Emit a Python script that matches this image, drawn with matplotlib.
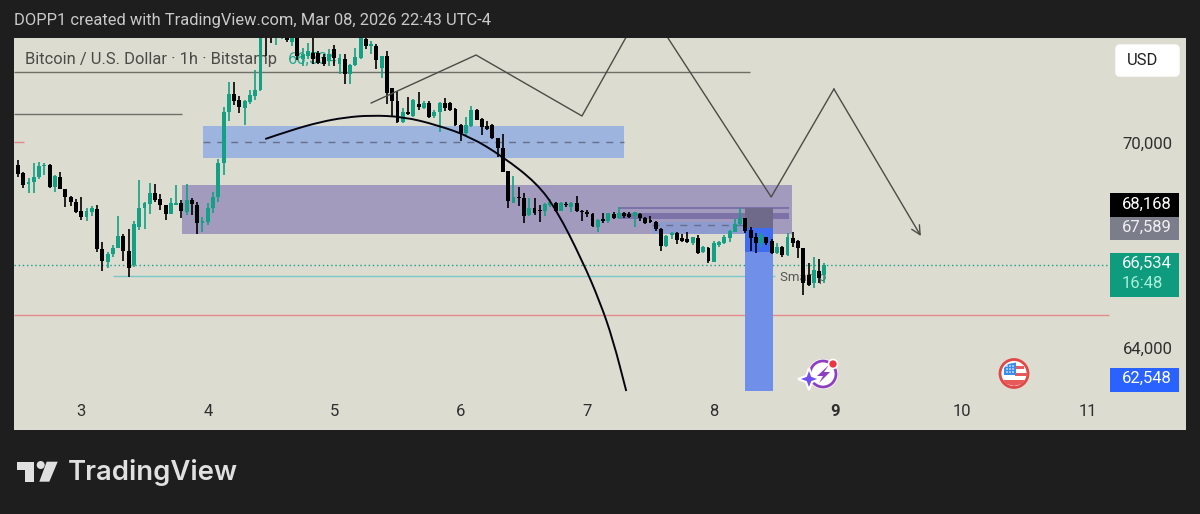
import matplotlib
matplotlib.use('Agg')
import matplotlib.pyplot as plt
from matplotlib.patches import Rectangle, Polygon, Circle, FancyBboxPatch, PathPatch
from matplotlib.path import Path

# candles, 1h BTC/USD
opens = [69385, 69141, 68830, 68898, 69044, 69356, 69395, 68732, 69034, 68683,
         68439, 68302, 68039, 67854, 68019, 68107, 66927, 66536, 66770, 66966,
         67317, 66868, 66458, 67580, 68117, 68244, 68556, 68380, 68205, 67951,
         68205, 68283, 68019, 68361, 68224, 67698, 67727, 68117, 68458, 69434,
         70947, 71464, 71288, 71044, 71239, 71405, 71580, 73300, 73300, 73170,
         73150, 73200, 73000, 73161, 72478, 72576, 72673, 72673, 72540, 72429,
         72770, 72332, 72478, 72039, 72302, 72527, 73083, 72868, 72868, 72234,
         72576, 71629, 71258, 70634, 70927, 70820, 71171, 71064, 71210, 70820,
         70927, 71210, 71190, 71034, 70556, 70332, 70527, 71005, 70741, 70527,
         70556, 70166, 69873, 69200, 68283, 68458, 68410, 67922, 68117, 68068,
         68039, 68215, 68263, 68049, 68244, 68166, 68283, 68039, 68019, 67941,
         67580, 67805, 67746, 67941, 67824, 67971, 67941, 67902, 67951, 67824,
         67776, 67727, 67502, 67015, 67337, 67386, 67239, 67220, 67112, 67239,
         66829, 66966, 66556, 67044, 67093, 67239, 67434, 67649, 67825, 67483,
         67288, 67093, 67268, 67171, 66800, 66995, 66751, 67259, 67161, 66946,
         66166, 65922, 66293, 66166]
highs = [69532, 69190, 68995, 69454, 69483, 69454, 69415, 69093, 69190, 68693,
         68478, 68380, 68458, 68117, 68185, 68215, 67122, 66849, 67044, 67893,
         67366, 67502, 67756, 68946, 68312, 68849, 68829, 68536, 68215, 68429,
         68800, 68361, 68819, 68410, 68312, 67854, 68263, 68605, 69551, 71093,
         71825, 71825, 71415, 71288, 71581, 72166, 73700, 73500, 73400, 73400,
         73300, 73300, 73300, 73250, 72820, 72966, 73161, 72722, 72624, 72770,
         72888, 72624, 72624, 72332, 72820, 73200, 73112, 73015, 72917, 72576,
         72722, 71649, 71551, 71044, 71386, 71308, 71532, 71269, 71259, 70995,
         71239, 71337, 71239, 71054, 70586, 70781, 71112, 71015, 70771, 70683,
         70576, 70166, 70293, 69220, 69063, 68751, 68576, 68410, 68410, 68215,
         68263, 68381, 68293, 68312, 68312, 68312, 68478, 68068, 68068, 67971,
         67805, 67971, 67990, 68019, 68166, 68019, 68019, 68019, 67971, 67854,
         67893, 67756, 67532, 67346, 67415, 67415, 67366, 67425, 67288, 67337,
         67015, 66995, 67171, 67171, 67337, 67483, 67795, 68117, 67844, 67561,
         67386, 67386, 67288, 67210, 67093, 67015, 67405, 67434, 67190, 66946,
         66507, 66683, 66625, 66507]
lows = [69044, 68703, 68556, 68556, 68966, 69093, 68712, 68605, 68673, 68166,
        68185, 67990, 67776, 67746, 67893, 66849, 66292, 66380, 66702, 66946,
        66575, 66097, 66410, 67483, 67502, 67941, 68293, 68068, 67776, 67951,
        68205, 67824, 67922, 67922, 67366, 67424, 67629, 67990, 68312, 69093,
        70683, 71142, 70898, 70556, 71171, 71288, 71560, 72576, 72966, 72888,
        73080, 73000, 72870, 72450, 72283, 72478, 72332, 72332, 72283, 72283,
        72283, 72039, 71746, 71746, 72283, 72478, 72770, 72624, 72185, 71941,
        71161, 70819, 70624, 70624, 70849, 70800, 70995, 71034, 70751, 70751,
        70361, 70966, 70956, 70527, 70098, 70234, 70488, 70693, 70263, 70410,
        70146, 69629, 69171, 68137, 68263, 68185, 67698, 67893, 67922, 67727,
        67893, 68166, 68019, 68039, 68146, 68019, 68019, 67756, 67873, 67580,
        67415, 67678, 67698, 67805, 67805, 67844, 67824, 67580, 67746, 67658,
        67698, 67463, 66878, 66995, 67220, 67063, 67122, 67112, 67044, 66781,
        66800, 66527, 66537, 66995, 67073, 67122, 67415, 67630, 67386, 66868,
        66800, 66995, 67044, 66771, 66771, 66703, 66732, 66976, 66654, 65581,
        65844, 65795, 65922, 65942]
closes = [69122, 68800, 68898, 69044, 69366, 69385, 68732, 69063, 68683, 68439,
          68302, 68019, 67873, 68049, 68117, 66917, 66585, 66780, 66946, 67317,
          66868, 66361, 67658, 68117, 68263, 68575, 68361, 68205, 67941, 68283,
          68263, 68039, 68361, 68234, 67678, 67746, 68137, 68439, 69454, 70947,
          71464, 71269, 71073, 71269, 71434, 71581, 73500, 73200, 73200, 73250,
          73200, 73040, 73140, 72580, 72624, 72722, 72478, 72380, 72350, 72624,
          72527, 72527, 72039, 72302, 72556, 73112, 72868, 72917, 72458, 72576,
          71502, 71258, 70644, 70927, 70878, 71288, 71073, 71210, 70781, 70947,
          71210, 71044, 70995, 70556, 70312, 70556, 70995, 70703, 70507, 70449,
          70166, 69873, 69190, 68341, 68458, 68429, 67893, 68117, 67990, 68039,
          68244, 68312, 68039, 68283, 68215, 68283, 68039, 68010, 67941, 67610,
          67776, 67746, 67971, 67824, 67990, 67902, 67863, 67999, 67824, 67697,
          67727, 67502, 67024, 67317, 67405, 67190, 67161, 67142, 67268, 66820,
          66976, 66586, 67093, 67142, 67288, 67464, 67659, 67825, 67464, 67259,
          67093, 67337, 67112, 66800, 66995, 66751, 67268, 67112, 66946, 65922,
          65873, 66312, 66068, 66468]

day_pos = [12, 36, 60, 84, 108, 132, 155, 179, 203]
day_labels = ['3', '4', '5', '6', '7', '8', '9', '10', '11']
price_ticks = [70000, 64000]
last_y = 66470

# drawings on the chart: (hour index, price)
path_t = [67, 86.9, 107, 119, 142.9, 154.8, 171.3]
path_p = [71200, 72605, 70820, 74127, 68449, 71610, 67307]
curve_t = [46.9, 51.6, 57.3, 62.0, 66.8, 73.1, 79.5, 85.8, 92.0, 98.4, 102.2, 107, 110.4, 112.9, 115.4]
curve_p = [70146, 70395, 70644, 70776, 70840, 70799, 70556, 70214, 69628, 68858, 68068, 66605, 65384, 64263, 62770]

BG = '#dddcd1'
DARK = '#1e1e1e'
GREEN = '#14a085'

plt.rcParams['font.family'] = ['Roboto', 'DejaVu Sans']

fig = plt.figure(figsize=(12, 5.14), dpi=100, facecolor=DARK)
ax = fig.add_axes([14 / 1200, (514 - 430) / 514, (1186 - 14) / 1200, (430 - 38) / 514], facecolor=BG)
ax.set_xlim(-0.76, 221.6)
ax.set_ylim(61629, 73103)
ax.axis('off')
ax.add_patch(Rectangle((0, 0), 1, 1, transform=ax.transAxes, color=BG, zorder=0))

# zones
ax.add_patch(Rectangle((35.1, 69590), 79.9, 937, color='#9db4de', lw=0, zorder=1))
ax.add_patch(Rectangle((31.1, 67366), 115.8, 1434, color='#a39bbd', lw=0, zorder=1))
ax.plot([35.1, 115], [70059, 70059], color='#66708c', lw=1, ls=(0, (5, 5)), zorder=2)
ax.add_patch(Rectangle((114.2, 68097), 32, 68, color='#7d72a8', lw=0, zorder=2))
ax.add_patch(Rectangle((114.2, 67805), 32, 184, color='#7d72a8', lw=0, zorder=2))
ax.add_patch(Rectangle((120.3, 67366), 18, 351, color='#8d9bcf', lw=0, zorder=2))
ax.plot([120.3, 138], [67638, 67638], color='#66708c', lw=1, ls=(0, (5, 5)), zorder=3)
ax.hlines(72107, -0.76, 138.9, color='#6f6f68', lw=1, zorder=2)
ax.hlines(70878, -0.76, 31.1, color='#6f6f68', lw=1, zorder=2)
ax.hlines(70059, -0.76, 1.1, color='#e08a8a', lw=1, zorder=2)
ax.hlines(66136, 18, 143.6, color='#7cc8c8', lw=1, zorder=2)
ax.hlines(64995, -0.76, 207, color='#e38b8b', lw=1, zorder=2)
ax.hlines(last_y, -0.76, 207, color=GREEN, lw=1, ls=(0, (1, 2)), zorder=2)

# position tool
ax.add_patch(Rectangle((138, 62770), 5.3, 4771, color='#6f8fe8', lw=0, zorder=3))
ax.add_patch(Rectangle((138, 66839), 5.3, 702, color='#3f6cf0', lw=0, zorder=3))
ax.add_patch(Rectangle((138, 67541), 5.3, 586, color='#6f6a8a', lw=0, zorder=3))

ax.text(144.6, 66105, 'Smart p', color='#555555', fontsize=9.5, va='center', zorder=3)
ax.text(51.2, 72470, '66,534', color='#2aa88f', fontsize=11.9, va='center', zorder=3)

# candles
for i in range(len(opens)):
    col = GREEN if closes[i] >= opens[i] else '#000000'
    ax.vlines(i, lows[i], highs[i], color=col, lw=1.2, zorder=4)
    ax.bar(i, abs(closes[i] - opens[i]), bottom=min(opens[i], closes[i]), width=0.74, color=col, lw=0, zorder=4)

# drawings
ax.plot(path_t[:-1], path_p[:-1], color='#4c4c46', lw=1, zorder=5)
ax.annotate('', xy=(path_t[-1], path_p[-1]), xytext=(path_t[-2], path_p[-2]),
            arrowprops=dict(arrowstyle='->', color='#4c4c46', lw=1, shrinkA=0, shrinkB=0, mutation_scale=16), zorder=5)

verts = [(curve_t[0], curve_p[0])]
codes = [Path.MOVETO]
for i in range(1, len(curve_t) - 1):
    verts.append((curve_t[i], curve_p[i]))
    verts.append(((curve_t[i] + curve_t[i + 1]) / 2, (curve_p[i] + curve_p[i + 1]) / 2))
    codes += [Path.CURVE3, Path.CURVE3]
verts.append((curve_t[-1], curve_p[-1]))
codes.append(Path.LINETO)
ax.add_patch(PathPatch(Path(verts, codes), fill=False, ec='#050510', lw=1.4, zorder=5))

# overlay for the labels, in pixels
ui = fig.add_axes([0, 0, 1, 1], facecolor='none')
ui.set_xlim(0, 1200)
ui.set_ylim(514, 0)
ui.axis('off')

ui.text(14, 21, 'DOPP1 created with TradingView.com, Mar 08, 2026 22:43 UTC-4', color='#c9c9c9', fontsize=11.9, va='center')
ax.text(1.4, 72470, 'Bitcoin / U.S. Dollar · 1h · Bitstamp', color='#4a4a46', fontsize=11.9, va='center', zorder=3)

for p, lab in zip(day_pos, day_labels):
    ax.text(p, 62180, lab, color='#2f2f2f', fontsize=12, ha='center', va='center',
            fontweight='bold' if lab == '9' else 'normal', zorder=6)
for p in price_ticks:
    ax.text(214.3, p, f'{p:,}', color='#2f2f2f', fontsize=12, ha='center', va='center', zorder=6)

ui.add_patch(FancyBboxPatch((1116, 45), 63, 31, boxstyle='round,pad=0,rounding_size=4', fc='white', ec='white', lw=1))
ui.text(1143, 60.5, 'USD', color='#222222', fontsize=12, ha='center', va='center')

ui.add_patch(Rectangle((1110, 193), 69, 24, color='#000000', lw=0))
ui.add_patch(Rectangle((1110, 217), 69, 23, color='#7b7d8a', lw=0))
ui.add_patch(Rectangle((1110, 252.5), 69, 44, color='#0f9b7e', lw=0))
ui.add_patch(Rectangle((1110, 367.5), 69, 24, color='#2962ff', lw=0))
ui.text(1146.5, 204, '68,168', color='white', fontsize=12, ha='center', va='center')
ui.text(1146.5, 227.5, '67,589', color='#f0f0f0', fontsize=12, ha='center', va='center')
ui.text(1146.5, 263.5, '66,534', color='#f0fff8', fontsize=12, ha='center', va='center')
ui.text(1122, 283, '16:48', color='#a8f0d8', fontsize=12, ha='left', va='center')
ui.text(1146.5, 378.5, '62,548', color='white', fontsize=12, ha='center', va='center')

# event icons
ui.add_patch(Circle((823, 374), 15, fc='white', ec='none'))
ui.add_patch(Circle((823, 374), 13, fc='none', ec='#8e3fc0', lw=2))
ui.add_patch(Polygon([(829, 365), (817, 376), (823, 376), (819, 383), (830, 372), (824, 372)], fc='#8e3fc0', ec='none'))
ui.add_patch(Polygon([(809, 368), (812, 376), (820, 379), (812, 382), (809, 390), (806, 382), (798, 379), (806, 376)],
                     fc='#6f4ff0', ec='white', lw=1.5))
ui.add_patch(Circle((833, 364), 4.5, fc='#ee3344', ec='white', lw=1.2))

ui.add_patch(Circle((1014, 373.5), 14, fc='white', ec='#e04848', lw=2))
ui.add_patch(Rectangle((1015, 366), 9, 3, color='#e85a5a', lw=0))
ui.add_patch(Rectangle((1015, 373), 13, 3, color='#e85a5a', lw=0))
ui.add_patch(Polygon([(1003, 380), (1025, 380), (1022, 384), (1014, 386), (1006, 384)], fc='#e85a5a', ec='none'))
ui.add_patch(Polygon([(1004, 375), (1004, 368), (1008, 364), (1016, 362.5), (1016, 375)], fc='#3b8bea', ec='none'))
for dx in (1007, 1010, 1013):
    for dy in (366, 369, 372):
        ui.add_patch(Circle((dx, dy), 0.8, fc='white', ec='none'))

# logo
LOGO = '#e0e0e0'
ui.add_patch(Polygon([(16.7, 461.7), (34.3, 461.7), (34.3, 481.7), (25, 481.7), (25, 470), (16.7, 470)], fc=LOGO, ec='none'))
ui.add_patch(Circle((40.7, 465), 4, fc=LOGO, ec='none'))
ui.add_patch(Polygon([(46.7, 461.7), (57.7, 461.7), (49.3, 481.7), (39.3, 481.7)], fc=LOGO, ec='none'))
ui.text(67.5, 473, 'TradingView', color=LOGO, fontsize=19.8, fontweight='semibold', family=['Inter', 'DejaVu Sans'], va='center')

fig.savefig('out.png', dpi=100, facecolor=DARK)
